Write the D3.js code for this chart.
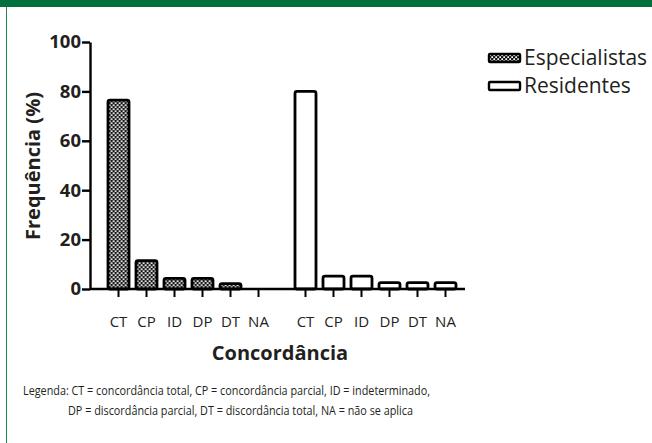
<!DOCTYPE html>
<html>
<head>
<meta charset="utf-8">
<script src="https://cdn.jsdelivr.net/npm/d3@7"></script>
<style>
  body { margin: 0; background: #fff; }
  svg { display: block; font-family: "Open Sans", "DejaVu Sans", sans-serif; }
</style>
</head>
<body>
<div id="chart"></div>
<script>
// data
var categories = ["CT", "CP", "ID", "DP", "DT", "NA"];
var groups = ["Especialistas", "Residentes"];
var especialistas = [76.5, 11.5, 4.3, 4.3, 2.2, 0];
var residentes = [80, 5.2, 5.2, 2.6, 2.6, 2.6];
var yTicks = [0, 20, 40, 60, 80, 100];
var footnote = [
  "Legenda: CT = concordância total, CP = concordância parcial, ID = indeterminado,",
  "DP = discordância parcial, DT = discordância total, NA = não se aplica"
];

var W = 652, H = 443;
var svg = d3.select("#chart").append("svg")
    .attr("width", W)
    .attr("height", H);

// frame: green top band + thin left rule
svg.append("rect").attr("x", 0).attr("y", 0).attr("width", W).attr("height", 7).attr("fill", "#00703c");
svg.append("line").attr("x1", 6.5).attr("x2", 6.5).attr("y1", 7).attr("y2", H)
    .attr("stroke", "#1f8a4c").attr("stroke-width", 1);

// dotted fill for Especialistas
var defs = svg.append("defs");
var pat = defs.append("pattern")
    .attr("id", "dots")
    .attr("patternUnits", "userSpaceOnUse")
    .attr("width", 4).attr("height", 4);
pat.append("rect").attr("width", 4).attr("height", 4).attr("fill", "#111");
pat.append("rect").attr("x", 0.3).attr("y", 0.3).attr("width", 1.8).attr("height", 1.8).attr("fill", "#fff");
pat.append("rect").attr("x", 2.3).attr("y", 2.3).attr("width", 1.8).attr("height", 1.8).attr("fill", "#fff");

var y = d3.scaleLinear().domain([0, 100]).range([289, 42]);

var x0 = d3.scaleBand().domain(groups).range([104.5, 459.5]).paddingInner(0.1016);
var x1 = d3.scaleBand().domain(categories).range([0, x0.bandwidth()])
    .paddingInner(0.25).paddingOuter(0.125);

var series = [
  { name: "Especialistas", values: especialistas, fill: "url(#dots)" },
  { name: "Residentes", values: residentes, fill: "#fff" }
];

// bars
series.forEach(function (s) {
  svg.append("g")
      .attr("transform", "translate(" + x0(s.name) + ",0)")
    .selectAll("rect")
    .data(s.values.map(function (v, i) { return { cat: categories[i], v: v }; })
      .filter(function (d) { return d.v > 0; }))
    .enter().append("rect")
      .attr("x", function (d) { return x1(d.cat); })
      .attr("y", function (d) { return y(d.v); })
      .attr("width", x1.bandwidth())
      .attr("height", function (d) { return y(0) - y(d.v); })
      .attr("rx", 2)
      .attr("fill", s.fill)
      .attr("stroke", "#000")
      .attr("stroke-width", 2.8);
});

// x ticks + labels per group
groups.forEach(function (g) {
  var ax = svg.append("g")
      .attr("transform", "translate(" + x0(g) + "," + y(0) + ")")
      .call(d3.axisBottom(x1).tickSize(8).tickPadding(19));
  ax.select(".domain").remove();
  ax.selectAll(".tick line").attr("stroke", "#000").attr("stroke-width", 2);
  ax.selectAll(".tick text")
      .attr("font-size", 15)
      .attr("fill", "#231f20")
      .style("font-family", "'Open Sans', sans-serif");
});

// baseline
svg.append("line")
    .attr("x1", 90).attr("x2", 465)
    .attr("y1", y(0)).attr("y2", y(0))
    .attr("stroke", "#000").attr("stroke-width", 2.4);

// y axis
var yAx = svg.append("g")
    .attr("transform", "translate(90,0)")
    .call(d3.axisLeft(y).tickValues(yTicks).tickSize(8).tickSizeOuter(0).tickPadding(1));
yAx.select(".domain").attr("stroke", "#000").attr("stroke-width", 2.4);
yAx.selectAll(".tick line").attr("stroke", "#000").attr("stroke-width", 2.4);
yAx.selectAll(".tick text")
    .attr("font-size", 18.5)
    .attr("font-weight", "bold")
    .attr("fill", "#231f20")
    .style("font-family", "'Open Sans', sans-serif");

// axis titles
svg.append("text")
    .attr("transform", "translate(40,166) rotate(-90)")
    .attr("text-anchor", "middle")
    .attr("font-size", 20)
    .attr("font-weight", "bold")
    .attr("fill", "#231f20")
    .text("Frequência (%)");

svg.append("text")
    .attr("x", 280).attr("y", 360)
    .attr("text-anchor", "middle")
    .attr("font-size", 20)
    .attr("font-weight", "bold")
    .attr("fill", "#231f20")
    .text("Concordância");

// legend
var leg = svg.append("g").attr("transform", "translate(489,54)");
series.forEach(function (s, i) {
  var row = leg.append("g").attr("transform", "translate(0," + (i * 28) + ")");
  row.append("rect")
      .attr("width", 31).attr("height", 8)
      .attr("rx", 1)
      .attr("fill", s.fill)
      .attr("stroke", "#000").attr("stroke-width", 2.4);
  row.append("text")
      .attr("x", 35).attr("y", 11)
      .attr("font-size", 21)
      .attr("fill", "#231f20")
      .text(s.name);
});

// footnote
svg.append("text")
    .attr("x", 23).attr("y", 395)
    .attr("font-size", 12)
    .attr("fill", "#231f20")
    .attr("textLength", 407)
    .attr("lengthAdjust", "spacingAndGlyphs")
    .text(footnote[0]);
svg.append("text")
    .attr("x", 68).attr("y", 415)
    .attr("font-size", 12)
    .attr("fill", "#231f20")
    .attr("textLength", 345)
    .attr("lengthAdjust", "spacingAndGlyphs")
    .text(footnote[1]);
</script>
</body>
</html>
